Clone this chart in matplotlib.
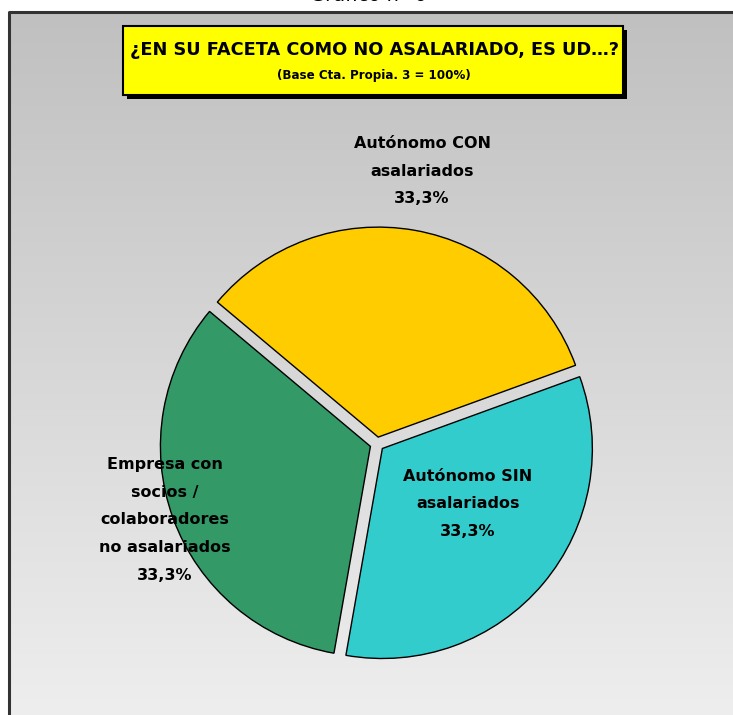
import matplotlib.pyplot as plt
import matplotlib.patches as mpatches
import numpy as np

# datos
categorias = ["Autónomo CON\nasalariados",
              "Empresa con\nsocios /\ncolaboradores\nno asalariados",
              "Autónomo SIN\nasalariados"]
valores = [33.3, 33.3, 33.3]
colores = ["#FFCC00", "#339966", "#33CCCC"]
titulo = "¿EN SU FACETA COMO NO ASALARIADO, ES UD…?"
subtitulo = "(Base Cta. Propia. 3 = 100%)"
cabecera = "Gráfico nº 6"

W, H = 733, 715
fig = plt.figure(figsize=(W / 100, H / 100), dpi=100)
ax = fig.add_axes([0, 0, 1, 1])
ax.set_xlim(0, W)
ax.set_ylim(0, H)
ax.set_aspect("equal")
ax.axis("off")

# fondo con degradado
grad = np.linspace(0, 1, 256).reshape(-1, 1)
top = np.array([0.753, 0.753, 0.753])
bot = np.array([0.933, 0.933, 0.933])
img = top + (bot - top) * grad[:, :, None]
ax.imshow(img, extent=(9, W, 0, H - 12), aspect="auto", zorder=0)
ax.plot([9, 9, W], [0, H - 12, H - 12], color="#333333", lw=2.2, zorder=1)

# cabecera (cortada arriba, como en el original)
ax.text(W / 2 + 2, H - 5, cabecera, ha="center", va="bottom",
        fontsize=14, color="black", zorder=5)

# caja del titulo
ax.add_patch(mpatches.Rectangle((127, H - 99), 500, 69, facecolor="black", zorder=2))
ax.add_patch(mpatches.Rectangle((123, H - 95), 500, 69, facecolor="#FFFF00",
                                edgecolor="black", lw=1.5, zorder=3))
ax.text(374, H - 50, titulo, ha="center", va="center", fontsize=12.8,
        fontweight="bold", zorder=4)
ax.text(374, H - 75, subtitulo, ha="center", va="center", fontsize=8.6,
        fontweight="bold", zorder=4)

# tarta
wedges, _ = ax.pie(valores, colors=colores, startangle=20, counterclock=True,
                   radius=210, center=(377, H - 444), explode=[7, 7, 7],
                   wedgeprops=dict(edgecolor="black", linewidth=1.0),
                   frame=True)
ax.set_xlim(0, W)
ax.set_ylim(0, H)
ax.axis("off")
for w in wedges:
    w.set_zorder(3)

# etiquetas
pos = [(422, H - 171), (165, H - 520), (468, H - 504)]
for (x, y), lab, v in zip(pos, categorias, valores):
    txt = lab + "\n" + f"{v:.1f}%".replace(".", ",")
    ax.text(x, y, txt, ha="center", va="center", multialignment="center",
            fontsize=11.5, fontweight="bold", linespacing=2.05, zorder=6)

fig.savefig("out.png", dpi=100)
